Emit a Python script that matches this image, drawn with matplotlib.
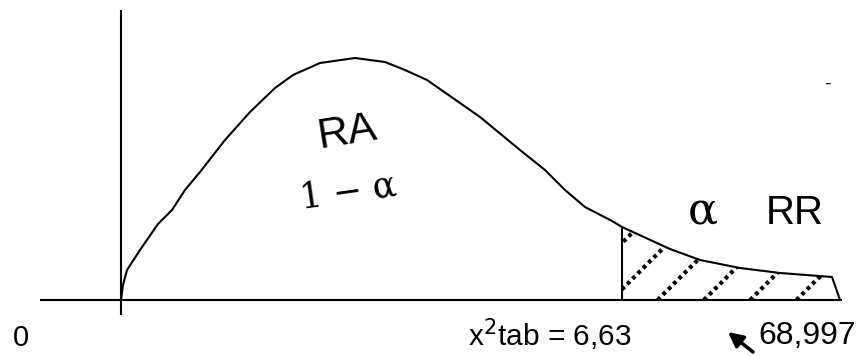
import matplotlib
matplotlib.use("Agg")
import matplotlib.pyplot as plt
import numpy as np
from matplotlib.patches import Polygon

# curve of the chi-square sketch (x along the axis, y = height above it)
curve_x = [0, 2, 6, 19, 37, 51, 64, 79, 104, 129, 154, 172, 199, 234, 264, 284,
           306, 339, 359, 399, 424, 444, 464, 491, 501, 549, 579, 619, 659, 711]
curve_y = [0, 15, 30, 50, 76, 90, 110, 128, 160, 188, 212, 225, 237, 242, 238, 230,
           220, 197, 183, 150, 130, 110, 93, 79, 73, 51, 40, 32, 27, 23]
tail_end_x = 719
crit_x = 501

zero_label = "0"
crit_label = r"x$^{2}$tab = 6,63"
end_label = "68,997"

fig = plt.figure(figsize=(8.67, 3.56), dpi=100)
ax = fig.add_axes([0, 0, 1, 1])
ax.set_xlim(-121, 746)
ax.set_ylim(-56, 300)
ax.axis("off")

line_kw = dict(color="black", linewidth=1.5, solid_capstyle="butt")

# axes
ax.plot([-81, tail_end_x + 2], [0, 0], **line_kw)
ax.plot([0, 0], [-15, 290], **line_kw)

# density curve and the tail closing down to the axis
ax.plot(curve_x + [tail_end_x], curve_y + [0], **line_kw)

# critical value line
crit_y = np.interp(crit_x, curve_x, curve_y)
ax.plot([crit_x, crit_x], [0, crit_y], **line_kw)

# rejection region, hatched with dotted diagonals
tail_x = [crit_x] + [x for x in curve_x if x > crit_x]
tail_y = [crit_y] + [y for x, y in zip(curve_x, curve_y) if x > crit_x]
region = Polygon(
    list(zip(tail_x, tail_y)) + [(tail_end_x, 0), (crit_x, 0)],
    closed=True, facecolor="none", edgecolor="none",
)
ax.add_patch(region)
for c in np.arange(444, 730, 46.3):
    (hl,) = ax.plot([c, c + 120], [0, 120], color="black", linewidth=3.0,
                    linestyle=(0, (0.9, 0.9)), dash_capstyle="butt")
    hl.set_clip_path(region)

sans = ["Liberation Sans", "DejaVu Sans"]
serif = ["DejaVu Serif"]

ax.text(226, 168, "RA", fontsize=31, family=sans, rotation=9,
        ha="center", va="center")
ax.text(227, 108, "1 \u2212 \u03b1", fontsize=25, family=serif, rotation=8,
        ha="center", va="center")
ax.text(582, 89, "\u03b1", fontsize=32, family=serif, ha="center", va="center")
ax.text(674, 87, "RR", fontsize=29, family=sans, ha="center", va="center")
ax.text(706, 216, "-", fontsize=14, family=sans, ha="center", va="center")

ax.text(-100, -38, zero_label, fontsize=21, family=sans, ha="center", va="center")
ax.text(429, -35, crit_label, fontsize=21.5, family=sans, ha="center", va="center")
ax.text(637, -36, end_label, fontsize=23, family=sans, ha="left", va="center")
ax.annotate("", xy=(607, -32), xytext=(632, -52),
            arrowprops=dict(arrowstyle="-|>", color="black", lw=2.5,
                            mutation_scale=22, shrinkA=0, shrinkB=0))

fig.savefig("out.png", dpi=100)
